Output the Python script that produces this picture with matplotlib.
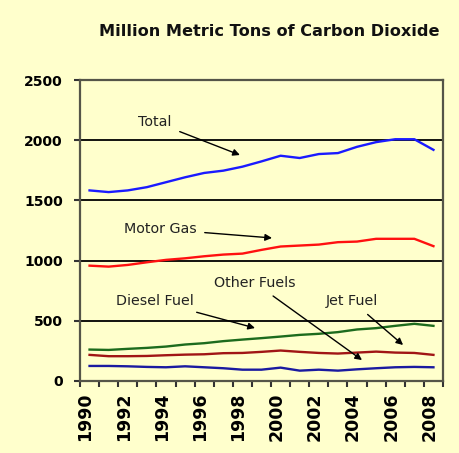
import matplotlib
matplotlib.use("Agg")
import matplotlib.pyplot as plt
import matplotlib.transforms as mtransforms
import numpy as np

years = list(range(1990, 2009))
total = [1583, 1569, 1583, 1610, 1651, 1692, 1728, 1747, 1780, 1824,
         1871, 1852, 1885, 1893, 1945, 1984, 2008, 2008, 1920]
motor_gas = [958, 950, 964, 986, 1006, 1019, 1036, 1050, 1058, 1089,
             1117, 1125, 1133, 1153, 1158, 1181, 1181, 1181, 1120]
diesel = [261, 258, 267, 275, 286, 303, 314, 331, 344, 356,
          369, 383, 392, 406, 428, 439, 458, 475, 458]
jet = [217, 206, 206, 208, 214, 219, 222, 231, 233, 242,
       253, 242, 233, 228, 236, 244, 236, 233, 217]
other = [125, 125, 122, 117, 114, 122, 114, 106, 94, 94,
         111, 86, 94, 86, 97, 106, 114, 117, 114]
yticks = [0, 500, 1000, 1500, 2000, 2500]
title = "Million Metric Tons of Carbon Dioxide"

bg = "#FFFFCC"
fig = plt.figure(figsize=(4.6, 4.53), dpi=100, facecolor=bg)
ax = fig.add_axes([80/460, 1-381/453, 363/460, 301/453])
ax.set_facecolor(bg)

x = np.arange(len(years))
ax.plot(x, total, color="#1a1aff", lw=1.7, zorder=3)
ax.plot(x, motor_gas, color="#ff1010", lw=1.7, zorder=3)
ax.plot(x, diesel, color="#1d6b1d", lw=1.7, zorder=3)
ax.plot(x, jet, color="#a01515", lw=1.7, zorder=3)
ax.plot(x, other, color="#1a1aa0", lw=1.7, zorder=3)

ax.set_xlim(-0.5, len(years) - 0.5)
ax.set_ylim(0, 2500)
ax.set_yticks(yticks)
ax.set_yticklabels([str(v) for v in yticks], fontweight="bold", fontsize=10)
for v in yticks[1:-1]:
    ax.axhline(v, color="black", lw=1.3, zorder=2)

# category axis: ticks at boundaries, labels at centers
ax.set_xticks(np.arange(-0.5, len(years)), minor=True)
ax.set_xticks(x[::2])
ax.set_xticklabels([str(y) for y in years[::2]], rotation=90,
                   fontweight="bold", fontsize=12.5)
ax.tick_params(axis="x", which="major", length=0, pad=8.5)
ax.tick_params(axis="x", which="minor", length=4.5, width=1.5, color="#333333")
ax.tick_params(axis="y", length=4.3, width=1.5, color="#333333", pad=8)
offset = mtransforms.ScaledTranslation(-4/100, 0, fig.dpi_scale_trans)
for lab in ax.get_xticklabels():
    lab.set_transform(lab.get_transform() + offset)

for s in ax.spines.values():
    s.set_color("#555548")
    s.set_linewidth(1.6)

arrow = dict(arrowstyle="-|>", color="black", lw=1.0, mutation_scale=10,
             shrinkA=4, shrinkB=0)
ann = dict(fontsize=10.3, color="#222222", ha="center", va="center",
           arrowprops=arrow, zorder=4)
ax.annotate("Total", xy=(7.87, 1877), xytext=(3.43, 2151), **ann)
ax.annotate("Motor Gas", xy=(9.55, 1188), xytext=(3.69, 1262), **ann)
ax.annotate("Other Fuels", xy=(14.26, 174), xytext=(8.66, 814), **ann)
ax.annotate("Diesel Fuel", xy=(8.66, 440), xytext=(3.43, 664), **ann)
ax.annotate("Jet Fuel", xy=(16.41, 299), xytext=(13.74, 664), **ann)

fig.text(269/460, 1-31/453, title, ha="center", va="center",
         fontsize=11.6, fontweight="bold", color="#111111")

fig.savefig("out.png", dpi=100, facecolor=bg)
